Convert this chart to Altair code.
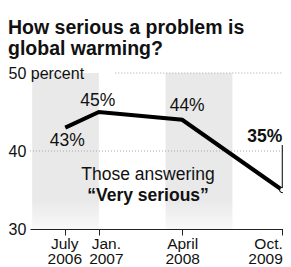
import altair as alt
import pandas as pd

# ---- data ----
survey_dates = ["2006-07-01", "2007-01-01", "2008-04-01", "2009-10-01"]
very_serious = [43, 45, 44, 35]
value_labels = ["43%", "45%", "44%", "35%"]

tick_top = ["July", "Jan.", "April", "Oct."]
tick_bottom = ["2006", "2007", "2008", "2009"]

band_start = ["2006-01-01", "2008-01-01"]
band_end = ["2007-01-01", "2009-01-01"]

grid_values = [50, 40]
grid_start = ["2007-04-01", "2005-12-20"]
domain_start = "2005-12-20"
domain_end = "2009-10-05"

note_line1 = "Those answering"
note_line2 = "\u201cVery serious\u201d"
note_date = "2007-09-27"
note_values = [36.9, 34.2]

FONT = "Liberation Sans"

df = pd.DataFrame({"date": survey_dates, "value": very_serious, "label": value_labels,
                   "i": list(range(len(survey_dates)))})
bands = pd.DataFrame({"start": band_start, "end": band_end})
grid = pd.DataFrame({"y": grid_values, "start": grid_start, "end": [domain_end] * len(grid_values)})
notes = pd.DataFrame({"date": [note_date, note_date], "value": note_values,
                      "text": [note_line1, note_line2]})


def dt(s):
    y, m, d = (int(p) for p in s.split("-"))
    return alt.DateTime(year=y, month=m, date=d, utc=True)


# two-line tick labels
expr = "''"
for d, t, b in reversed(list(zip(survey_dates, tick_top, tick_bottom))):
    expr = f"utcFormat(datum.value, '%Y-%m') == '{d[:7]}' ? ['{t}', '{b}'] : ({expr})"

# small horizontal nudges of the tick labels (style, as in the original graphic)
nudge_expr = ("utcFormat(datum.value, '%Y-%m') == '2006-07' ? -1 : "
              "(utcFormat(datum.value, '%Y-%m') == '2007-01' ? 7 : 0)")

xscale = alt.Scale(type="utc", domain=[dt(domain_start), dt(domain_end)])
xaxis = alt.Axis(values=[dt(d) for d in survey_dates], labelExpr=expr, grid=False,
                 tickSize=6, tickColor="#222", domainColor="#222", domainWidth=1,
                 labelFontSize=15.5, labelFont=FONT, labelColor="#111", labelPadding=1,
                 labelBaseline="top", labelLineHeight=15.5, labelFlush=5,
                 labelOffset={"expr": nudge_expr},
                 labelOverlap=False, labelBound=False, zindex=1)
yscale = alt.Scale(domain=[30, 50], nice=False, zero=False)
yaxis = alt.Axis(values=[30, 40, 50], grid=False, domain=False, ticks=False,
                 labelExpr="datum.value == 50 ? '50 percent' : datum.label",
                 labelAlign="left", labelPadding=22, labelBaseline="middle",
                 labelFontSize=16, labelFont=FONT, labelColor="#111",
                 labelFlush=False, labelOverlap=False, labelBound=False, zindex=1)


def X(field):
    return alt.X(field, type="temporal", scale=xscale, axis=xaxis, title=None)


def Y(field):
    return alt.Y(field, type="quantitative", scale=yscale, axis=yaxis, title=None)


band_layer = alt.Chart(bands).mark_rect(
    color=alt.Gradient(gradient="linear",
                       stops=[alt.GradientStop(color="#e9e9e9", offset=0),
                              alt.GradientStop(color="#e9e9e9", offset=0.82),
                              alt.GradientStop(color="#f9f9f9", offset=1)],
                       x1=0, x2=0, y1=0, y2=1)
).encode(
    x=X("start"), x2=alt.X2("end"),
    y=alt.YDatum(50, type="quantitative", scale=yscale, axis=yaxis, title=None),
    y2=alt.Y2Datum(30),
)

grid_layer = alt.Chart(grid).mark_rule(color="#a8a8a8", strokeDash=[1, 2], strokeWidth=1).encode(
    x=X("start"), x2=alt.X2("end"), y=Y("y")
)

line_layer = alt.Chart(df).mark_line(color="black", strokeWidth=4, strokeJoin="miter",
                                     strokeCap="butt").encode(x=X("date"), y=Y("value"))

last = alt.Chart(df).transform_filter("datum.i == 3")
leader = last.mark_rule(color="black", strokeWidth=1, yOffset=-3, y2Offset=-45).encode(
    x=X("date"), y=Y("value"), y2=alt.Y2("value"))
point = last.mark_point(shape="circle", filled=True, fill="white", stroke="black",
                        strokeWidth=1, size=28, opacity=1).encode(x=X("date"), y=Y("value"))

offsets = [(2, 13.5, "center"), (-1, -11.5, "center"), (5, -14, "center"), (0, -53, "right")]
label_layers = []
for i, (dx, dy, al) in enumerate(offsets):
    label_layers.append(
        alt.Chart(df).transform_filter(f"datum.i == {i}").mark_text(
            font=FONT, fontSize=17.5, fontWeight="bold" if i == 3 else "normal",
            color="#111", dx=dx, dy=dy, baseline="middle", align=al
        ).encode(x=X("date"), y=Y("value"), text="label:N")
    )

note1 = alt.Chart(notes).transform_filter(f"datum.text == '{note_line1}'").mark_text(
    font=FONT, fontSize=17.5, color="#111", baseline="middle", align="center"
).encode(x=X("date"), y=Y("value"), text="text:N")
note2 = alt.Chart(notes).transform_filter(f"datum.text != '{note_line1}'").mark_text(
    font=FONT, fontSize=17.5, fontWeight="bold", color="#111", baseline="middle", align="center"
).encode(x=X("date"), y=Y("value"), text="text:N")

chart = alt.layer(band_layer, grid_layer, line_layer, leader, point, *label_layers, note1, note2).properties(
    width=253, height=156,
    padding={"left": 22, "top": 65, "right": 0, "bottom": 38},
    autosize=alt.AutoSizeParams(type="none"),
    title=alt.TitleParams(text=["How serious a problem is", "global warming?"], anchor="start",
                          frame="group", font=FONT, fontSize=19.5, fontWeight="bold",
                          color="#111", dx=-22, offset=6, lineHeight=21),
    background="white",
).configure_view(stroke=None)

chart.save("out.html", embed_options={"renderer": "svg", "actions": False})
